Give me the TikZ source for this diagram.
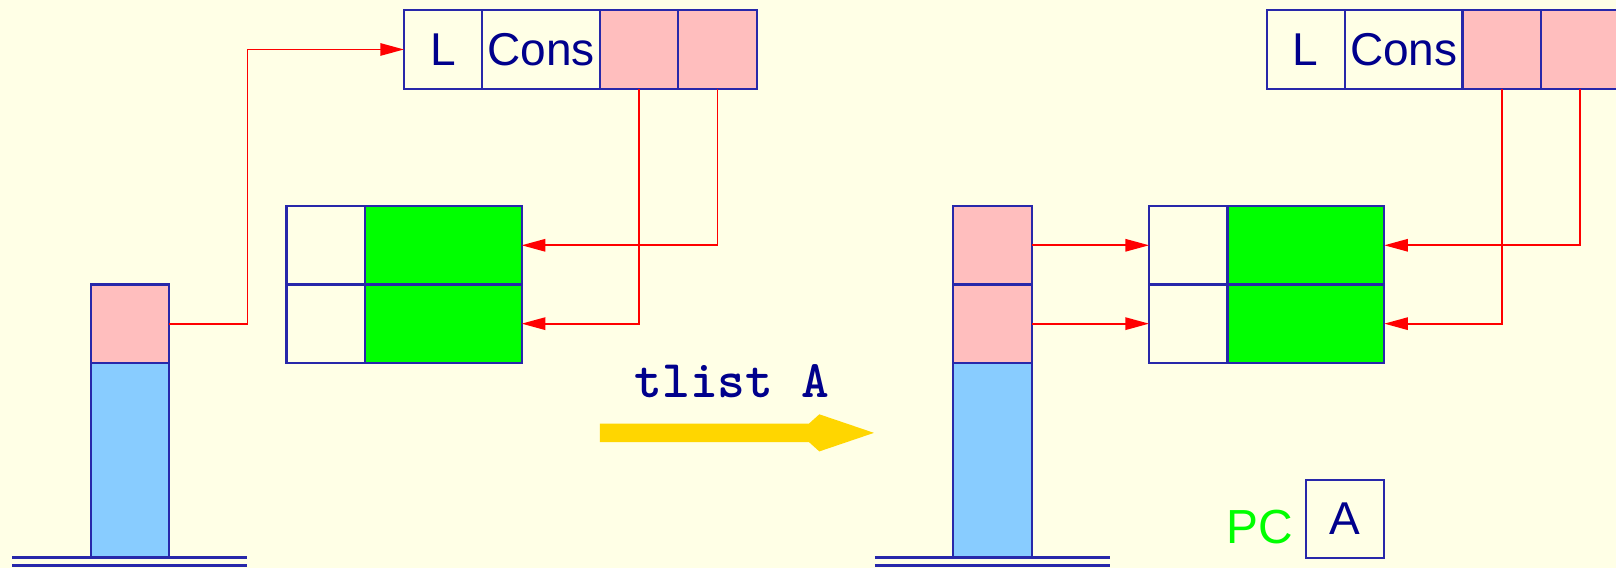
\documentclass[tikz,border=0pt]{standalone}
\usepackage{fontspec}
\setmainfont{Liberation Sans}
\usepackage{tikz}
\usetikzlibrary{positioning,arrows.meta}

\definecolor{paper}{RGB}{255,255,230}
\definecolor{boxline}{RGB}{40,40,170}
\definecolor{ink}{RGB}{0,0,140}
\definecolor{ptrfill}{RGB}{255,190,190}
\definecolor{stackfill}{RGB}{136,204,255}
\definecolor{datafill}{RGB}{0,255,0}
\definecolor{runfill}{RGB}{255,214,0}

\begin{document}
\begin{tikzpicture}[x=0.01cm,y=-0.01cm,
      cell/.style={rectangle,draw=boxline,line width=0.6pt,minimum width=0.76cm,minimum height=0.76cm,
        inner sep=0pt,outer sep=0pt,text=ink,font=\fontsize{12.7}{15}\selectfont},
      tagcell/.style={cell,minimum width=1.14cm},
      ptrcell/.style={cell,fill=ptrfill},
      datacell/.style={cell,fill=datafill,minimum width=1.52cm},
      stackbase/.style={cell,fill=stackfill,minimum height=1.89cm},
      ptr/.style={draw=red,line width=0.5pt,-{Triangle[length=0.23cm,width=0.12cm]}},
      ground/.style={draw=boxline,line width=0.8pt},
      pclabel/.style={text=datafill,font=\fontsize{13.2}{15}\selectfont},
      instr/.style={text=ink,font=\ttfamily\bfseries\fontsize{14.6}{16}\selectfont}
    ]

    % background and page size
    \fill[paper] (0,0) rectangle (1568,551);
    \clip (0,0) rectangle (1568,551);

    % ---- before ----
    \node[cell] (lL) at (430,48) {L};
    \node[tagcell,right=0pt of lL] (lCons) {Cons};
    \node[ptrcell,right=0pt of lCons] (lP1) {};
    \node[ptrcell,right=0pt of lP1] (lP2) {};

    \node[cell] (lW1) at (316,238) {};
    \node[datacell,right=0pt of lW1] (lD1) {};
    \node[cell,below=0pt of lW1] (lW2) {};
    \node[datacell,right=0pt of lW2] (lD2) {};

    \node[ptrcell] (lS1) at (126,314) {};
    \node[stackbase,below=0pt of lS1] (lBase) {};

    \draw[ground] (12,541) -- (240,541);
    \draw[ground] (12,549) -- (240,549);

    \draw[ptr] (lS1.east) -- ++(0.76cm,0) |- (lL.west);
    \draw[ptr] (lP1.south) |- (lD2.east);
    \draw[ptr] (lP2.south) |- (lD1.east);

    % ---- instruction ----
    \node[instr] (op) at (710,370) {tlist A};
    \fill[runfill] (582,411) -- (785,411) -- (795,402) -- (848,420) -- (795,438) -- (785,429) -- (582,429) -- cycle;

    % ---- after ----
    \node[cell] (rL) at (1267,48) {L};
    \node[tagcell,right=0pt of rL] (rCons) {Cons};
    \node[ptrcell,right=0pt of rCons] (rP1) {};
    \node[ptrcell,right=0pt of rP1] (rP2) {};

    \node[cell] (rW1) at (1153,238) {};
    \node[datacell,right=0pt of rW1] (rD1) {};
    \node[cell,below=0pt of rW1] (rW2) {};
    \node[datacell,right=0pt of rW2] (rD2) {};

    \node[ptrcell] (rS1) at (963,238) {};
    \node[ptrcell,below=0pt of rS1] (rS2) {};
    \node[stackbase,below=0pt of rS2] (rBase) {};

    \draw[ground] (849,541) -- (1077,541);
    \draw[ground] (849,549) -- (1077,549);

    \draw[ptr] (rS1.east) -- (rW1.west);
    \draw[ptr] (rS2.east) -- (rW2.west);
    \draw[ptr] (rP1.south) |- (rD2.east);
    \draw[ptr] (rP2.south) |- (rD1.east);

    \node[cell] (pcA) at (1305,503.5) {A};
    \node[pclabel,left=0pt of pcA,yshift=-0.08cm] (pc) {PC};

  \end{tikzpicture}
\end{document}
